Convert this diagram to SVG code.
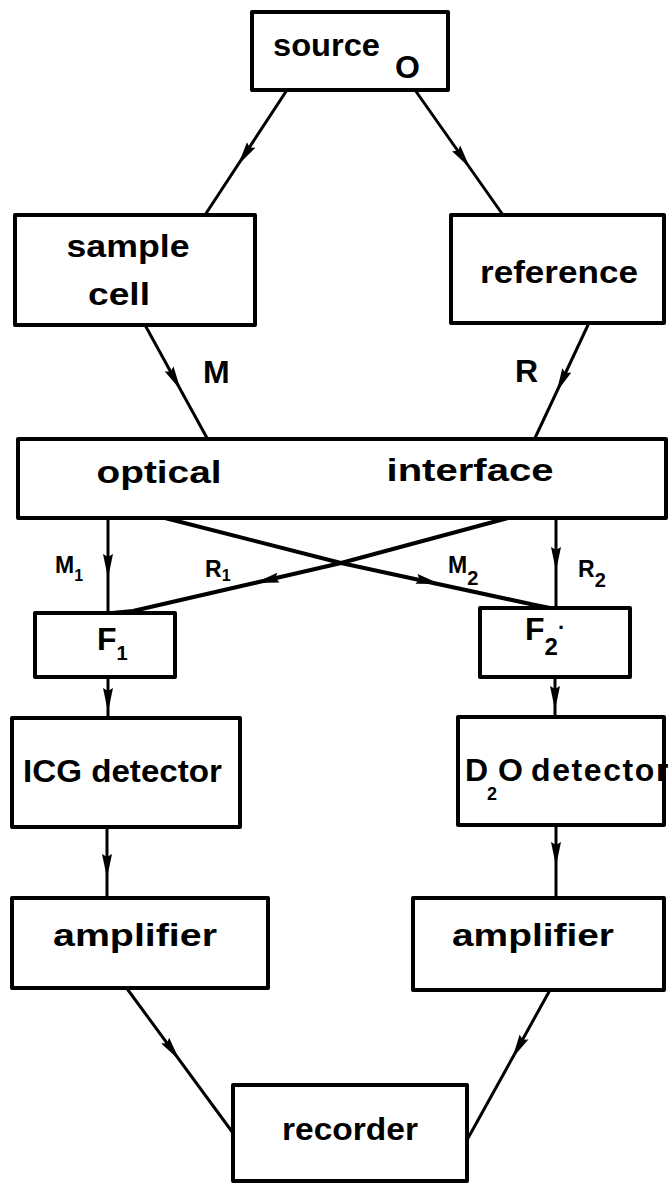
<svg xmlns="http://www.w3.org/2000/svg" xmlns:xlink="http://www.w3.org/1999/xlink" width="668" height="1184" viewBox="0 0 668 1184">
<style>
.box{fill:#fff;stroke:#000;stroke-width:4;stroke-linejoin:round}
.t{font-family:"Liberation Sans",Arial,sans-serif;font-weight:bold;font-size:32px;fill:#000}
.sm{font-family:"Liberation Sans",Arial,sans-serif;font-weight:bold;font-size:23px;fill:#000}
.ln{stroke:#000;stroke-width:3;fill:none;stroke-linecap:round;stroke-linejoin:round}
.ln4{stroke:#000;stroke-width:4;fill:none;stroke-linecap:round;stroke-linejoin:round}
</style>
<defs>
<path id="ah" d="M0,0 L-24,-5 L-21,0 L-24,5 Z" fill="#000"/>
</defs>
<rect width="668" height="1184" fill="#fff"/>
<g id="connectors">
<line class="ln" x1="287" y1="90" x2="205" y2="215"/>
<use xlink:href="#ah" transform="translate(238,165) rotate(123.3)"/>
<line class="ln" x1="415" y1="90" x2="503" y2="215"/>
<use xlink:href="#ah" transform="translate(470,168) rotate(54.8)"/>
<line class="ln" x1="145" y1="325" x2="207" y2="438"/>
<use xlink:href="#ah" transform="translate(180.7,390) rotate(61.2)"/>
<line class="ln" x1="588" y1="325" x2="535" y2="438"/>
<use xlink:href="#ah" transform="translate(556.6,392) rotate(115.1)"/>
<line class="ln" x1="108" y1="518" x2="108" y2="613"/>
<use xlink:href="#ah" transform="translate(108,578) rotate(90)"/>
<path class="ln4" d="M508,518 L341,563 L133,611 L112,613"/>
<use xlink:href="#ah" transform="translate(255,583) rotate(167)"/>
<path class="ln4" d="M165,518 L341,563 L535,605 L550,608"/>
<use xlink:href="#ah" transform="translate(440,584) rotate(12.2)"/>
<line class="ln" x1="556" y1="520" x2="556" y2="608"/>
<use xlink:href="#ah" transform="translate(556,571) rotate(90)"/>
<line class="ln" x1="108" y1="677" x2="108" y2="718"/>
<use xlink:href="#ah" transform="translate(108,712) rotate(90)"/>
<line class="ln" x1="555" y1="677" x2="555" y2="717"/>
<use xlink:href="#ah" transform="translate(555,710) rotate(90)"/>
<line class="ln" x1="107" y1="827" x2="107" y2="898"/>
<use xlink:href="#ah" transform="translate(107,878) rotate(90)"/>
<line class="ln" x1="556" y1="825" x2="556" y2="898"/>
<use xlink:href="#ah" transform="translate(556,866) rotate(90)"/>
<line class="ln" x1="128" y1="990" x2="233" y2="1133"/>
<use xlink:href="#ah" transform="translate(179.4,1060) rotate(53.7)"/>
<line class="ln" x1="550" y1="990" x2="467" y2="1140"/>
<use xlink:href="#ah" transform="translate(512.4,1058) rotate(119)"/>
</g>
<g id="source">
<rect class="box" x="252" y="12" width="196" height="78"/>
<text class="t" x="273" y="56" textLength="107" lengthAdjust="spacingAndGlyphs">source</text>
<text class="t" x="395" y="78" font-size="34">O</text>
</g>
<g id="sample-cell">
<rect class="box" x="15" y="215" width="240" height="110"/>
<text class="t" x="128" y="257" text-anchor="middle" textLength="123" lengthAdjust="spacingAndGlyphs">sample</text>
<text class="t" x="119" y="305" text-anchor="middle" textLength="62" lengthAdjust="spacingAndGlyphs">cell</text>
</g>
<g id="reference">
<rect class="box" x="451" y="215" width="213" height="108"/>
<text class="t" x="559" y="283" text-anchor="middle" textLength="158" lengthAdjust="spacingAndGlyphs">reference</text>
</g>
<g id="labels-MR">
<text class="t" x="203" y="383" font-size="28">M</text>
<text class="t" x="515" y="382" font-size="30">R</text>
</g>
<g id="optical-interface">
<rect class="box" x="18" y="439" width="648" height="79"/>
<text class="t" x="159" y="483" text-anchor="middle" textLength="125" lengthAdjust="spacingAndGlyphs">optical</text>
<text class="t" x="470" y="481" text-anchor="middle" textLength="167" lengthAdjust="spacingAndGlyphs">interface</text>
</g>
<g id="labels-beams">
<text class="sm" x="55" y="573">M<tspan font-size="16" dy="8">1</tspan></text>
<text class="sm" x="205" y="577">R<tspan font-size="16" dy="4">1</tspan></text>
<text class="sm" x="448" y="573">M<tspan font-size="20" dy="12">2</tspan></text>
<text class="sm" x="578" y="577">R<tspan font-size="20" dy="10">2</tspan></text>
</g>
<g id="F1">
<rect class="box" x="35" y="613" width="140" height="64"/>
<text class="t" x="97" y="650" font-size="30">F<tspan font-size="20" dy="10">1</tspan></text>
</g>
<g id="F2">
<rect class="box" x="480" y="608" width="150" height="69"/>
<text class="t" x="525" y="640" font-size="26">F<tspan font-size="24" dy="15">2</tspan><tspan dy="-20" font-size="22">·</tspan></text>
</g>
<g id="ICG-detector">
<rect class="box" x="12" y="718" width="228" height="109"/>
<text class="t" x="23" y="782" textLength="199" lengthAdjust="spacingAndGlyphs">ICG detector</text>
</g>
<g id="D2O-detector">
<rect class="box" x="458" y="717" width="206" height="108"/>
<text class="t" x="465" y="781" font-size="30">D<tspan x="487" dy="19" font-size="18">2</tspan><tspan x="498" dy="-19">O </tspan><tspan x="531" letter-spacing="1.6">detector</tspan></text>
</g>
<g id="amplifier-1">
<rect class="box" x="12" y="898" width="256" height="90"/>
<text class="t" x="135" y="946" text-anchor="middle" textLength="164" lengthAdjust="spacingAndGlyphs">amplifier</text>
</g>
<g id="amplifier-2">
<rect class="box" x="413" y="898" width="251" height="92"/>
<text class="t" x="533" y="946" text-anchor="middle" textLength="162" lengthAdjust="spacingAndGlyphs">amplifier</text>
</g>
<g id="recorder">
<rect class="box" x="233" y="1085" width="234" height="96"/>
<text class="t" x="350" y="1140" text-anchor="middle" textLength="136" lengthAdjust="spacingAndGlyphs">recorder</text>
</g>
</svg>
